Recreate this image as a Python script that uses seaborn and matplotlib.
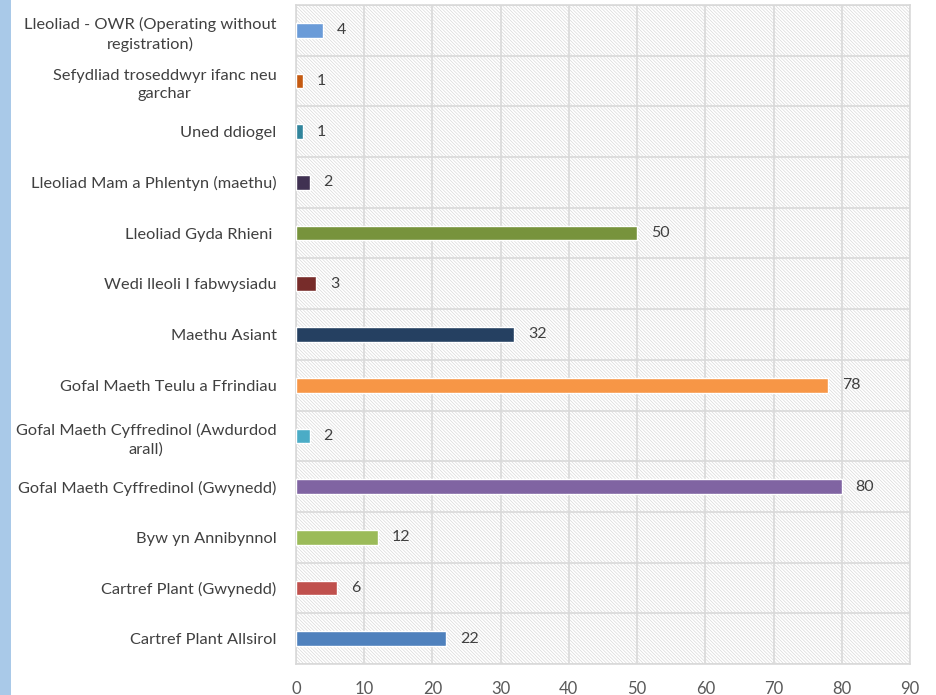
import matplotlib
matplotlib.use('Agg')
import matplotlib.pyplot as plt
from matplotlib.patches import Rectangle
import seaborn as sns
import pandas as pd

sns.set_style('white')
plt.rcParams['font.family'] = ['Lato', 'DejaVu Sans']
plt.rcParams['hatch.linewidth'] = 0.5

# Data ####################################################################
categories = [
    'Lleoliad - OWR (Operating without\nregistration)',
    'Sefydliad troseddwyr ifanc neu\ngarchar',
    'Uned ddiogel',
    'Lleoliad Mam a Phlentyn (maethu)',
    'Lleoliad Gyda Rhieni ',
    'Wedi lleoli I fabwysiadu',
    'Maethu Asiant',
    'Gofal Maeth Teulu a Ffrindiau',
    'Gofal Maeth Cyffredinol (Awdurdod\narall)',
    'Gofal Maeth Cyffredinol (Gwynedd)',
    'Byw yn Annibynnol',
    'Cartref Plant (Gwynedd)',
    'Cartref Plant Allsirol',
]
values = [4, 1, 1, 2, 50, 3, 32, 78, 2, 80, 12, 6, 22]
bar_colours = ['#6a9bd8', '#c55a11', '#31859c', '#403152', '#77933c', '#772c2a',
               '#254061', '#f79646', '#4bacc6', '#8064a2', '#9bbb59', '#c0504d',
               '#4f81bd']
x_ticks = [0, 10, 20, 30, 40, 50, 60, 70, 80, 90]

df = pd.DataFrame({'category': categories, 'value': values})

# Plot ####################################################################
fig = plt.figure(figsize=(9.37, 6.95), dpi=100)
# light blue strip at the left edge
fig.patches.append(Rectangle((0, 0), 11 / 937, 1, transform=fig.transFigure,
                             facecolor='#a9c9e8', edgecolor='none'))
ax = fig.add_axes([296 / 937, 31 / 695, 614 / 937, 659 / 695])

# hatched background
ax.add_patch(Rectangle((0, 0), 1, 1, transform=ax.transAxes, facecolor='white',
                       edgecolor='#d9d9d9', hatch='\\' * 10, linewidth=0, zorder=0))

sns.barplot(data=df, x='value', y='category', hue='category', palette=bar_colours,
            orient='h', width=0.29, legend=False, ax=ax, zorder=3, saturation=1)

ax.set_xlim(0, 90)
ax.set_ylim(len(categories) - 0.5, -0.5)
ax.set_xticks(x_ticks)
ax.set_yticks(range(len(categories)), minor=False)
ax.set_yticks([i + 0.5 for i in range(-1, len(categories))], minor=True)
ax.set_axisbelow(True)
ax.grid(axis='x', color='#d9d9d9', linewidth=1.2)
ax.grid(axis='y', which='minor', color='#d9d9d9', linewidth=1.2)
ax.tick_params(axis='both', which='both', length=0)
ax.tick_params(axis='x', labelsize=12, labelcolor='#595959', pad=12)
ax.tick_params(axis='y', labelsize=11.8, labelcolor='#404040', pad=14)
for lab in ax.get_yticklabels():
    lab.set_multialignment('center')
    lab.set_linespacing(1.45)
ax.set_xlabel('')
ax.set_ylabel('')
for s in ax.spines.values():
    s.set_color('#d9d9d9')
    s.set_linewidth(1.2)

# value labels
for i, v in enumerate(values):
    ax.annotate(str(v), xy=(v, i), xytext=(10, 0), textcoords='offset points',
                va='center', ha='left', fontsize=11.5, color='#404040', zorder=4)

fig.savefig('out.png', dpi=100)
